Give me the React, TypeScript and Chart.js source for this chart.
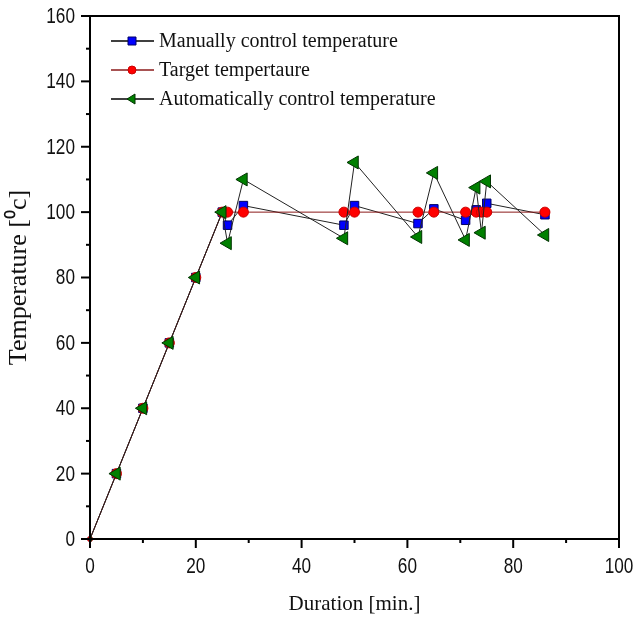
import React, { useEffect, useRef } from "react";
import { Chart, registerables } from "chart.js";

Chart.register(...registerables);

const durations = [0, 5, 10, 15, 20, 25, 26, 29, 48, 50, 62, 65, 71, 73, 74, 75, 86];
const manualTemps = [0, 20, 40, 60, 80, 100, 96, 102, 96, 102, 96.5, 101, 97.5, 100.7, 100, 102.7, 99.2];
const targetTemps = [0, 20, 40, 60, 80, 100, 100, 100, 100, 100, 100, 100, 100, 100, 100, 100, 100];
const autoTemps = [0, 20, 40, 60, 80, 100, 90.5, 110, 92, 115.2, 92.4, 112, 91.5, 107.5, 93.7, 109.4, 93];

const seriesNames = [
  "Manually control temperature",
  "Target tempertaure",
  "Automatically control temperature",
];
const xTitle = "Duration [min.]";
const yTitle = "Temperature [\u2070c]";
const xMin = 0, xMax = 100, xMajor = 20, xMinor = 10;
const yMin = 0, yMax = 160, yMajor = 20, yMinor = 10;

const SERIF = "'Liberation Serif', 'Times New Roman', serif";
const SANS = "'Liberation Sans', Arial, sans-serif";

const styles = [
  { line: "#222222", fill: "#0000ff", border: "#000066", shape: "rect", radius: 6, rot: 0 },
  { line: "#8b1a1a", fill: "#ff0000", border: "#cc0000", shape: "circle", radius: 5, rot: 0 },
  { line: "#222222", fill: "#008000", border: "#003300", shape: "triangle", radius: 7.5, rot: -90 },
];

const framePlugin = {
  id: "frameTicks",
  afterDraw(chart: any) {
    const { ctx, chartArea } = chart;
    const { left, right, top, bottom } = chartArea;
    const xs = chart.scales.x;
    const ys = chart.scales.y;
    ctx.save();
    ctx.strokeStyle = "#000";
    ctx.lineWidth = 2;
    ctx.strokeRect(left, top, right - left, bottom - top);
    for (let v = xMin; v <= xMax; v += xMinor) {
      const px = xs.getPixelForValue(v);
      const len = v % xMajor === 0 ? 9 : 4;
      ctx.beginPath();
      ctx.moveTo(px, bottom);
      ctx.lineTo(px, bottom + len);
      ctx.stroke();
    }
    for (let v = yMin; v <= yMax; v += yMinor) {
      const py = ys.getPixelForValue(v);
      const len = v % yMajor === 0 ? 9 : 4;
      ctx.beginPath();
      ctx.moveTo(left, py);
      ctx.lineTo(left - len, py);
      ctx.stroke();
    }
    // condensed tick labels
    const sx = 0.8;
    ctx.fillStyle = "#111";
    ctx.font = `21.5px ${SANS}`;
    ctx.textBaseline = "middle";
    ctx.textAlign = "center";
    xs.ticks.forEach((t: any) => {
      const px = xs.getPixelForValue(t.value);
      ctx.save();
      ctx.translate(px, bottom + 28);
      ctx.scale(sx, 1);
      ctx.fillText(String(t.value), 0, 0);
      ctx.restore();
    });
    ctx.textAlign = "right";
    ys.ticks.forEach((t: any) => {
      const py = ys.getPixelForValue(t.value);
      ctx.save();
      ctx.translate(left - 15, py + 1);
      ctx.scale(sx, 1);
      ctx.fillText(String(t.value), 0, 0);
      ctx.restore();
    });
    // legend
    const lx0 = 111, lx1 = 154, mx = 132, tx = 159;
    const rows = [41, 70, 99];
    ctx.font = `20px ${SERIF}`;
    ctx.textBaseline = "middle";
    ctx.textAlign = "left";
    seriesNames.forEach((name, i) => {
      const s = styles[i];
      const y = rows[i];
      ctx.strokeStyle = i === 1 ? s.line : "#000";
      ctx.lineWidth = 1.5;
      ctx.beginPath();
      ctx.moveTo(lx0, y);
      ctx.lineTo(lx1, y);
      ctx.stroke();
      ctx.fillStyle = s.fill;
      ctx.strokeStyle = s.border;
      ctx.lineWidth = 1;
      ctx.beginPath();
      if (s.shape === "rect") {
        ctx.rect(mx - 4, y - 4, 8, 8);
      } else if (s.shape === "circle") {
        ctx.arc(mx, y, 4, 0, Math.PI * 2);
      } else {
        ctx.moveTo(mx - 5, y);
        ctx.lineTo(mx + 3, y - 5);
        ctx.lineTo(mx + 3, y + 5);
        ctx.closePath();
      }
      ctx.fill();
      ctx.stroke();
      ctx.fillStyle = "#111";
      ctx.fillText(name, tx, y + 1);
    });
    ctx.restore();
  },
};

export default function App() {
  const ref = useRef<HTMLCanvasElement | null>(null);
  useEffect(() => {
    if (!ref.current) return;
    const series = [manualTemps, targetTemps, autoTemps];
    const orders = [2, 1, 0];
    const datasets = series.map((vals, i) => {
      const s = styles[i];
      return {
        label: seriesNames[i],
        data: durations.map((d, k) => ({ x: d, y: vals[k] })),
        borderColor: s.line,
        borderWidth: 1,
        backgroundColor: s.fill,
        pointBackgroundColor: s.fill,
        pointBorderColor: s.border,
        pointBorderWidth: 1,
        pointStyle: s.shape,
        pointRotation: s.rot,
        pointRadius: (c: any) => (c.dataIndex === 0 ? 2.5 : s.radius),
        tension: 0,
        order: orders[i],
        clip: false as any,
      };
    });
    const chart = new Chart(ref.current, {
      type: "line",
      data: { datasets },
      plugins: [framePlugin],
      options: {
        animation: false,
        responsive: false,
        maintainAspectRatio: false,
        layout: { padding: { top: 16, right: 20, left: 0, bottom: 0 } },
        plugins: { legend: { display: false }, tooltip: { enabled: false } },
        scales: {
          x: {
            type: "linear",
            min: xMin,
            max: xMax,
            grid: { display: false, drawTicks: false },
            border: { display: false },
            ticks: { stepSize: xMajor, display: false },
            title: {
              display: true,
              text: xTitle,
              color: "#111",
              font: { family: SERIF, size: 21 },
              padding: { top: 0, bottom: 11 },
            },
            afterFit: (s: any) => {
              s.height = 89;
              s.paddingLeft = 0;
              s.paddingRight = 0;
            },
          },
          y: {
            type: "linear",
            min: yMin,
            max: yMax,
            grid: { display: false, drawTicks: false },
            border: { display: false },
            ticks: { stepSize: yMajor, display: false },
            title: {
              display: true,
              text: yTitle,
              color: "#111",
              font: { family: SERIF, size: 26 },
              padding: { top: 4, bottom: 0 },
            },
            afterFit: (s: any) => {
              s.width = 90;
              s.paddingTop = 0;
              s.paddingBottom = 0;
            },
          },
        },
      },
    });
    return () => chart.destroy();
  }, []);
  return (
    <div style={{ position: "fixed", left: 0, top: 0, width: 639, height: 628, background: "#fff" }}>
      <canvas ref={ref} width={639} height={628} style={{ width: 639, height: 628, display: "block" }} />
    </div>
  );
}
